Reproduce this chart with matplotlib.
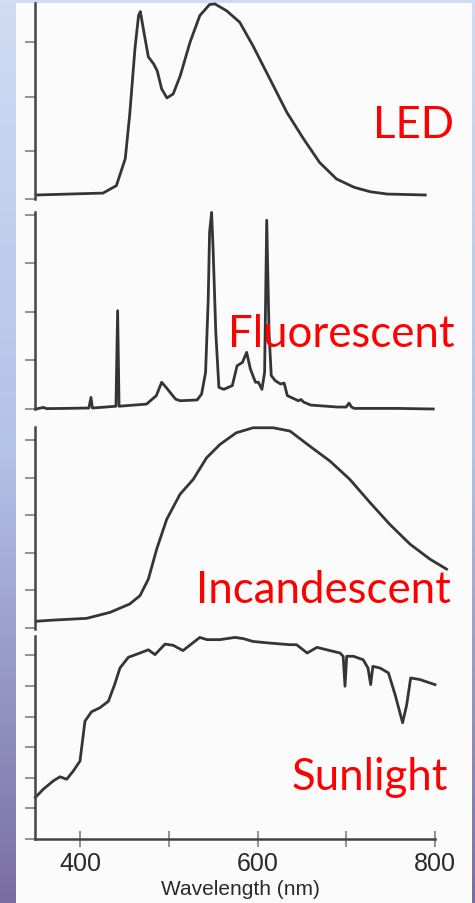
import numpy as np
import matplotlib
matplotlib.use("Agg")
import matplotlib.pyplot as plt
from matplotlib.colors import LinearSegmentedColormap
from matplotlib.patches import Rectangle

# ---------------- data (wavelength nm, relative intensity) ----------------
led_nm = [351, 426, 441, 451, 456, 462, 466, 468, 472, 477, 483, 487, 492, 498,
          505, 513, 524, 535, 546, 552, 565, 580, 595, 614, 633, 652, 670, 689,
          709, 727, 746, 789]
led_val = [0, 1, 4.9, 19, 42, 77, 94, 96, 85.3, 72.3, 68.6, 65, 55.5, 50.8,
           52.9, 62.5, 80, 93.9, 99.7, 100, 96.5, 90.4, 78, 60.7, 43.3, 29.3, 17, 8.4,
           4, 1.7, 0.5, 0]

fl_nm = [350, 359, 362, 383, 410, 412.4, 414, 440.5, 442.4, 444, 475, 486, 492, 497,
         507.7, 513, 532, 537, 541.5, 544.5, 546, 548.3, 550, 553, 556.5, 562, 571.6,
         577, 583, 587.8, 592, 597.7, 601, 605, 608, 610.4, 613, 615.5, 620, 626, 630,
         633.6, 646, 649, 652, 660, 690, 700, 703, 706, 709, 758, 798]
fl_val = [0, 0.8, 0.2, 0.3, 0.5, 5.9, 0.5, 1.4, 50, 1.4, 2.5, 6.8, 13.6, 11,
          5, 4.2, 4.6, 7.6, 18.6, 56, 90, 100, 81, 39, 11, 10, 11.9,
          22, 23.7, 28.8, 20.3, 13.6, 13.6, 10, 18.6, 96, 39, 17, 14.4, 12.7, 13.2,
          6.8, 4.2, 4.8, 3.5, 2, 1, 1, 3, 1, 0.3, 0.3, 0]

inc_nm = [351, 370, 407.5, 434, 456, 467.6, 477, 486.4, 497.7, 512.7, 527.6, 542.6,
          557.7, 576, 595, 617.7, 636.6, 659, 681.7, 704, 726.8, 749, 771.8, 794.4, 813]
inc_val = [-0.3, 0.3, 1.2, 4.3, 8.6, 12.9, 21.4, 36.9, 52.3, 65.2, 72.9, 84,
           90.9, 96.9, 99.5, 99.5, 97.8, 90, 82.3, 72.9, 60.9, 49.7, 39.5, 31.7, 26.6]

sun_nm = [349.7, 358.7, 370, 377.5, 385, 392.5, 400, 405.6, 413, 422.5, 432, 439,
          445, 454.5, 467.6, 477, 484.5, 495.8, 505, 516, 535, 543, 557.7, 574.6,
          584, 595, 614, 636.6, 644, 656, 667, 678, 693, 696.5, 698.6, 700.5, 708,
          719, 724.5, 727.5, 730, 738, 747.5, 755, 763.5, 768, 772.6, 783, 800]
sun_val = [20.5, 24.6, 28.7, 30.7, 29.5, 33.6, 38.5, 58.2, 62.8, 64.8, 68, 76.2,
           84.4, 89.7, 91.8, 93.4, 91, 96.2, 95.6, 93, 99.5, 98.4, 98.4, 99.5,
           98.9, 97.5, 96.7, 95.9, 95.9, 91.8, 94.6, 93.4, 91.8, 90.2, 75.4, 90.2, 90.2,
           88.5, 84.4, 76.2, 85.2, 84.4, 82, 71.3, 57.4, 66, 79.5, 78.7, 76.2]

panel_labels = ["LED", "Fluorescent", "Incandescent", "Sunlight"]
x_ticks = [400, 500, 600, 700, 800]
x_ticklabels = ["400", "", "600", "", "800"]
x_title = "Wavelength (nm)"

# ---------------- layout ----------------
W, H = 475, 904
fig = plt.figure(figsize=(W / 100, H / 100), dpi=100)

bg = fig.add_axes([0, 0, 1, 1])
bg.set_xlim(0, 1)
bg.set_ylim(0, 1)
bg.axis("off")
grad = np.linspace(0, 1, 256).reshape(-1, 1)
cmap = LinearSegmentedColormap.from_list(
    "bg", [(0, "#cfdcf3"), (0.5, "#b3c2e7"), (1, "#7a6ea3")])
bg.imshow(grad, aspect="auto", cmap=cmap, extent=[0, 1, 0, 1], origin="upper")
bg.add_patch(Rectangle((16 / W, 0), (472 - 16) / W, (H - 4) / H,
                       facecolor="#fbfbfb", edgecolor="none", transform=bg.transAxes))

px_per_nm = 0.8875
x_left = 400 - (80 - 35) / px_per_nm
x_right = 400 + (W - 80) / px_per_nm


def make_axes(top, bottom, ylim, yticks):
    ax = fig.add_axes([35 / W, 1 - bottom / H, (W - 35) / W, (bottom - top) / H])
    ax.patch.set_visible(False)
    ax.set_xlim(x_left, x_right)
    ax.set_ylim(*ylim)
    for s in ["top", "right", "bottom"]:
        ax.spines[s].set_visible(False)
    ax.spines["left"].set_color("#444444")
    ax.spines["left"].set_linewidth(1.8)
    ax.set_yticks(yticks)
    ax.set_yticklabels([])
    ax.tick_params(axis="y", direction="out", length=7, width=1.3, color="#8a8a8a")
    ax.set_xticks([])
    return ax


line_kw = dict(color="#353535", lw=2.0, solid_joinstyle="round", clip_on=False)

ax1 = make_axes(4, 200, (-2.1, 100.5), [-2, 23, 51.5, 80])
ax1.plot(led_nm, led_val, **line_kw)

ax2 = make_axes(213, 410, (0, 100.2), list(np.arange(0, 100, 24.7)))
ax2.plot(fl_nm, fl_val, **line_kw)

ax3 = make_axes(428, 630, (-4.3, 99.9), list(-3.8 + 19.4 * np.arange(6)))
ax3.plot(inc_nm, inc_val, **line_kw)

ax4 = make_axes(637, 840, (0, 100.2), list(15.1 * np.arange(7)))
ax4.plot(sun_nm, sun_val, **line_kw)
ax4.spines["bottom"].set_visible(True)
ax4.spines["bottom"].set_color("#444444")
ax4.spines["bottom"].set_linewidth(1.8)
ax4.spines["bottom"].set_bounds(x_left, 800)
ax4.set_xticks(x_ticks)
ax4.set_xticklabels(x_ticklabels, fontsize=18, family="Liberation Sans", color="#2a2a2a")
ax4.tick_params(axis="x", direction="inout", length=12, width=1.3, color="#8a8a8a", pad=2.5)

fig.text(240 / W, 1 - 895 / H, x_title, ha="center", va="baseline",
         fontsize=15, family="Liberation Sans", color="#2a2a2a")

# red panel labels (left x, baseline y in px)
label_pos = [(373, 138), (228, 347), (196, 603), (292, 790)]
for txt, (lx, ly) in zip(panel_labels, label_pos):
    fig.text(lx / W, 1 - ly / H, txt, ha="left", va="baseline",
             fontsize=31.5, family="Lato", color="#ff0000")

fig.savefig("out.png", dpi=100)
